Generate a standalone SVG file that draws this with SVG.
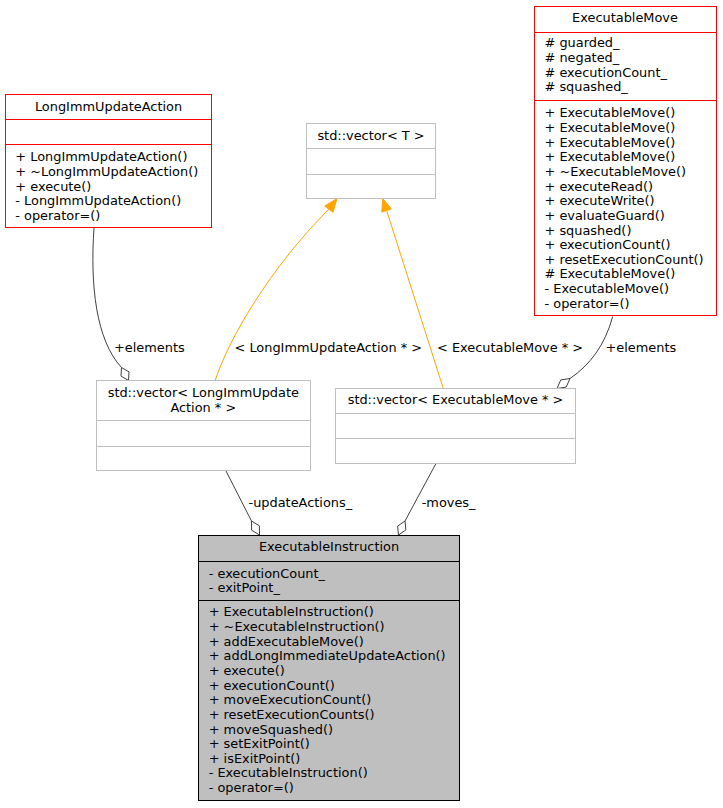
<svg xmlns="http://www.w3.org/2000/svg" width="723" height="808" viewBox="0 0 723 808">
<style>
text { font-family: "DejaVu Sans", "Liberation Sans", sans-serif; font-size: 12.9px; fill: #000; }
.mid { text-anchor: middle; }
.red { fill: #ffffff; stroke: #ff0000; stroke-width: 1; }
.gray { fill: #ffffff; stroke: #bfbfbf; stroke-width: 1; }
.main { fill: #bfbfbf; stroke: #000000; stroke-width: 1; }
.sepr { stroke: #ff0000; stroke-width: 1; }
.sepg { stroke: #bfbfbf; stroke-width: 1; }
.sepk { stroke: #000000; stroke-width: 1; }
.edge { fill: none; stroke: #404040; stroke-width: 1; }
.inh { fill: none; stroke: #ffa500; stroke-width: 1; }
.dia { fill: #ffffff; stroke: #404040; stroke-width: 1; }
.arr { fill: #ffa500; stroke: #ffa500; stroke-width: 1; }
</style>
<rect width="723" height="808" fill="#ffffff"/>

<g id="connectors">
  <path class="edge" d="M94,228 C90,285 96,340 121.5,367.5"/>
  <polygon class="dia" points="121.5,367.5 129,371.9 128.5,380.5 121,376.1"/>
  <text x="114" y="352">+elements</text>

  <path class="inh" d="M215,381 C228,340 270,268 329,209"/>
  <polygon class="arr" points="337,198.5 324.8,206 333,212.3"/>
  <text x="234.5" y="352">&lt; LongImmUpdateAction * &gt;</text>

  <path class="inh" d="M443.3,388.5 L386.6,210.4"/>
  <polygon class="arr" points="382.7,198.5 391.3,208.9 381.8,212"/>
  <text x="437" y="352">&lt; ExecutableMove * &gt;</text>

  <path class="edge" d="M612.7,316.5 C605,345 590,365 570,378.5"/>
  <polygon class="dia" points="570,378.5 566.2,387.1 557,388.5 560.8,379.9"/>
  <text x="605.5" y="352">+elements</text>

  <path class="edge" d="M226,471 L251.5,521"/>
  <polygon class="dia" points="251.5,521 259.4,525.8 259.5,535 251.6,530.2"/>
  <text x="248.5" y="507">-updateActions_</text>

  <path class="edge" d="M435.7,464 L405,521"/>
  <polygon class="dia" points="405,521 405.9,529.9 398.5,535 397.6,526.1"/>
  <text x="421.7" y="507">-moves_</text>
</g>

<g id="LongImmUpdateAction">
  <rect class="red" x="5.5" y="94.5" width="206" height="133"/>
  <line class="sepr" x1="5.5" y1="119.5" x2="211.5" y2="119.5"/>
  <line class="sepr" x1="5.5" y1="144.5" x2="211.5" y2="144.5"/>
  <text class="mid" x="108.5" y="110.5">LongImmUpdateAction</text>
  <text x="15.3" y="161.3">+ LongImmUpdateAction()</text>
  <text x="15.3" y="175.95">+ ~LongImmUpdateAction()</text>
  <text x="15.3" y="190.6">+ execute()</text>
  <text x="15.3" y="205.25">- LongImmUpdateAction()</text>
  <text x="15.3" y="219.9">- operator=()</text>
</g>

<g id="ExecutableMove">
  <rect class="red" x="534.5" y="6.5" width="182" height="309"/>
  <line class="sepr" x1="534.5" y1="32.5" x2="716.5" y2="32.5"/>
  <line class="sepr" x1="534.5" y1="100.5" x2="716.5" y2="100.5"/>
  <text class="mid" x="625" y="22">ExecutableMove</text>
  <text x="544.5" y="47.3"># guarded_</text>
  <text x="544.5" y="61.95"># negated_</text>
  <text x="544.5" y="76.6"># executionCount_</text>
  <text x="544.5" y="91.25"># squashed_</text>
  <text x="544.5" y="117.3">+ ExecutableMove()</text>
  <text x="544.5" y="131.95">+ ExecutableMove()</text>
  <text x="544.5" y="146.6">+ ExecutableMove()</text>
  <text x="544.5" y="161.25">+ ExecutableMove()</text>
  <text x="544.5" y="175.9">+ ~ExecutableMove()</text>
  <text x="544.5" y="190.55">+ executeRead()</text>
  <text x="544.5" y="205.2">+ executeWrite()</text>
  <text x="544.5" y="219.85">+ evaluateGuard()</text>
  <text x="544.5" y="234.5">+ squashed()</text>
  <text x="544.5" y="249.15">+ executionCount()</text>
  <text x="544.5" y="263.8">+ resetExecutionCount()</text>
  <text x="544.5" y="278.45"># ExecutableMove()</text>
  <text x="544.5" y="293.1">- ExecutableMove()</text>
  <text x="544.5" y="307.75">- operator=()</text>
</g>

<g id="vector_T">
  <rect class="gray" x="306.5" y="123.5" width="129" height="75"/>
  <line class="sepg" x1="306.5" y1="148.5" x2="435.5" y2="148.5"/>
  <line class="sepg" x1="306.5" y1="174.5" x2="435.5" y2="174.5"/>
  <text class="mid" x="371" y="139.7">std::vector&lt; T &gt;</text>
</g>

<g id="vector_LongImmUpdateAction">
  <rect class="gray" x="96.5" y="380.5" width="214" height="90"/>
  <line class="sepg" x1="96.5" y1="420.5" x2="310.5" y2="420.5"/>
  <line class="sepg" x1="96.5" y1="446.5" x2="310.5" y2="446.5"/>
  <text class="mid" x="203.3" y="397">std::vector&lt; LongImmUpdate</text>
  <text class="mid" x="203.3" y="411.6">Action * &gt;</text>
</g>

<g id="vector_ExecutableMove">
  <rect class="gray" x="335.5" y="388.5" width="240" height="75"/>
  <line class="sepg" x1="335.5" y1="413.5" x2="575.5" y2="413.5"/>
  <line class="sepg" x1="335.5" y1="438.5" x2="575.5" y2="438.5"/>
  <text class="mid" x="455.5" y="403.7">std::vector&lt; ExecutableMove * &gt;</text>
</g>

<g id="ExecutableInstruction">
  <rect class="main" x="198.5" y="535.5" width="261" height="265"/>
  <line class="sepk" x1="198.5" y1="561.5" x2="459.5" y2="561.5"/>
  <line class="sepk" x1="198.5" y1="600.5" x2="459.5" y2="600.5"/>
  <text class="mid" x="329" y="550.7">ExecutableInstruction</text>
  <text x="208.7" y="578">- executionCount_</text>
  <text x="208.7" y="592.4">- exitPoint_</text>
  <text x="208.7" y="616.3">+ ExecutableInstruction()</text>
  <text x="208.7" y="630.95">+ ~ExecutableInstruction()</text>
  <text x="208.7" y="645.6">+ addExecutableMove()</text>
  <text x="208.7" y="660.25">+ addLongImmediateUpdateAction()</text>
  <text x="208.7" y="674.9">+ execute()</text>
  <text x="208.7" y="689.55">+ executionCount()</text>
  <text x="208.7" y="704.2">+ moveExecutionCount()</text>
  <text x="208.7" y="718.85">+ resetExecutionCounts()</text>
  <text x="208.7" y="733.5">+ moveSquashed()</text>
  <text x="208.7" y="748.15">+ setExitPoint()</text>
  <text x="208.7" y="762.8">+ isExitPoint()</text>
  <text x="208.7" y="777.45">- ExecutableInstruction()</text>
  <text x="208.7" y="792.1">- operator=()</text>
</g>
</svg>
